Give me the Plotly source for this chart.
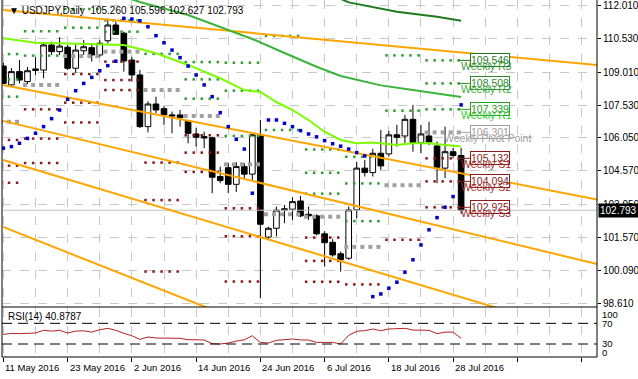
import plotly.graph_objects as go

# ---------------- data ----------------
bars = list(range(58))
date_labels = ["11 May 2016", "23 May 2016", "2 Jun 2016", "14 Jun 2016",
               "24 Jun 2016", "6 Jul 2016", "18 Jul 2016", "28 Jul 2016"]
date_bars = [0, 8, 16, 24, 32, 40, 48, 56]

opens = [109.29, 108.44, 109.04, 108.59, 109.09, 109.11, 110.24, 109.94, 110.14, 109.19,
         109.98, 110.12, 109.79, 110.43, 111.14, 110.77, 109.56, 108.89, 106.56, 107.58,
         107.37, 107.09, 107.09, 106.83, 106.23, 106.11, 106.06, 104.31, 104.71, 103.96,
         104.76, 104.42, 106.14, 101.58, 101.98, 102.79, 102.84, 103.21, 102.61, 102.54,
         101.73, 101.35, 100.83, 100.63, 102.81, 104.69, 104.49, 105.36, 105.33, 106.19,
         106.14, 106.89, 105.84, 106.14, 105.69, 104.69, 105.43, 105.260]
highs = [109.43, 109.20, 109.56, 109.25, 109.69, 110.32, 110.39, 110.59, 110.24, 110.30,
         110.46, 110.33, 110.46, 111.44, 111.29, 110.84, 109.71, 109.11, 107.70, 107.91,
         107.49, 107.24, 107.31, 106.86, 106.50, 106.33, 106.11, 104.76, 104.91, 104.96,
         104.91, 106.26, 106.86, 102.05, 102.96, 103.03, 103.38, 103.44, 102.96, 102.61,
         101.85, 101.49, 100.93, 102.96, 104.98, 105.06, 105.56, 106.41, 106.37, 106.64,
         107.09, 107.54, 106.64, 106.78, 105.89, 106.56, 105.59, 105.596]
lows = [108.48, 108.35, 108.51, 108.48, 108.89, 108.74, 109.79, 109.79, 109.11, 108.97,
        109.79, 109.49, 109.69, 110.32, 110.69, 109.04, 108.59, 106.50, 106.30, 107.16,
        106.64, 106.26, 106.56, 105.81, 105.66, 105.59, 103.56, 104.01, 103.56, 103.62,
        104.20, 104.16, 98.83, 101.45, 101.61, 102.21, 102.36, 102.48, 102.36, 101.66,
        100.25, 100.70, 100.03, 100.56, 102.43, 104.31, 104.31, 104.61, 105.21, 105.66,
        105.81, 105.43, 105.36, 105.73, 104.01, 104.24, 105.13, 102.627]
closes = [108.51, 109.04, 108.66, 109.08, 109.16, 110.24, 109.94, 110.19, 109.19, 110.01,
          110.16, 109.79, 110.32, 111.14, 110.72, 109.52, 108.89, 106.56, 107.58, 107.31,
          107.09, 107.04, 106.96, 106.26, 106.08, 106.05, 104.28, 104.13, 103.96, 104.76,
          104.42, 106.19, 102.16, 101.98, 102.80, 102.86, 103.18, 102.54, 102.54, 101.73,
          101.33, 100.78, 100.56, 102.81, 104.69, 104.49, 105.36, 104.79, 106.19, 106.08,
          106.89, 105.84, 106.23, 105.87, 104.73, 105.43, 105.26, 102.793]

# Parabolic SAR
sar = [105.59, 105.66, 105.81, 106.03, 106.26, 106.56, 106.92, 107.31, 107.79, 108.18,
       108.51, 108.78, 109.08, 109.31, 109.51, 111.44, 111.41, 111.33, 111.06, 110.66,
       110.34, 110.01, 109.67, 109.29, 108.89, 108.44, 107.91, 107.19, 106.56, 105.99,
       105.55, 103.56, None, 106.86, 106.86, 106.71, 106.56, 106.38, 106.23, 106.10,
       105.93, 105.79, 105.68, 105.55, 105.39, 105.24, 98.90, 99.02, 99.28, 99.55,
       100.00, 100.56, 101.23, 101.91, 102.46, 102.93, 103.41, 107.54]

# moving averages (bar, value)
ma_fast_bars = [0, 4, 8, 12, 15, 17, 19, 23, 27, 30, 32, 34, 36, 38, 40, 42, 44, 46, 49, 51, 53, 55, 57]
ma_fast_vals = [110.54, 110.34, 110.31, 110.28, 110.24, 110.06, 109.87, 109.34, 108.74, 108.21,
                108.12, 107.67, 107.31, 106.86, 106.33, 105.96, 105.81, 105.84, 105.73, 105.81,
                105.81, 105.73, 105.66]
ma_mid_bars = [14, 17, 23, 29, 31, 35, 39, 42, 47, 51, 57]
ma_mid_vals = [112.54, 112.18, 111.59, 110.78, 110.51, 109.88, 109.26, 108.84, 108.42, 108.21, 107.90]
ma_slow_bars = [42, 43, 49, 54, 57]
ma_slow_vals = [112.32, 112.16, 111.74, 111.51, 111.33]

# trend lines: (bar0, price0) -> (bar1, price1)
trend_b0 = [-0.05, -0.05, -0.05, -0.05, -0.05]
trend_p0 = [111.82, 108.44, 106.82, 105.06, 102.04]
trend_b1 = [73.92, 73.92, 73.92, 73.92, 73.92]
trend_p1 = [109.34, 103.28, 100.37, 97.04, 91.45]

# weekly pivots (one value per week, None = off chart)
week_start = [0, 3, 8, 13, 18, 23, 28, 33, 38, 43, 48, 53]
week_len = [3, 5, 5, 5, 5, 5, 5, 5, 5, 5, 5, 5]
piv_R3 = [109.83, None, None, None, None, 109.47, 109.44, None, 105.53, 105.20, None, 109.546]
piv_R2 = [108.69, 110.86, 111.86, 111.35, None, 108.69, 108.18, 110.65, 104.48, 104.00, 109.77, 108.508]
piv_R1 = [107.91, 109.76, 111.02, 110.84, 109.84, 107.82, 106.14, 106.41, 103.54, 102.30, 107.28, 107.339]
piv_PP = [106.78, 108.44, 109.74, 109.94, 108.21, 107.04, 104.86, 102.61, 102.50, 101.14, 103.92, 106.301]
piv_S1 = [105.96, 107.34, 108.93, 109.49, 104.94, 106.17, 102.88, None, 101.56, 99.45, 101.46, 105.132]
piv_S2 = [104.80, 106.02, 107.64, 108.66, 103.25, 105.39, 101.62, None, 100.51, None, None, 104.094]
piv_S3 = [104.03, 104.92, 106.75, 108.21, 100.03, 104.52, 99.58, None, 99.57, None, None, 102.925]

rsi = [48.7, 50.6, 50.0, 51.3, 51.3, 56.5, 55.0, 56.5, 51.3, 55.0,
       55.5, 53.0, 57.6, 60.3, 56.5, 50.6, 46.0, 39.0, 43.5, 41.6,
       41.0, 41.0, 41.0, 38.4, 38.4, 37.8, 30.6, 30.0, 31.9, 35.7,
       38.0, 46.0, 33.2, 31.9, 37.1, 38.4, 39.7, 37.8, 37.8, 33.2,
       32.6, 33.2, 30.0, 46.8, 54.5, 55.8, 59.0, 55.8, 59.0, 59.0,
       60.3, 57.0, 56.5, 56.5, 50.0, 53.0, 53.0, 40.88]
rsi_label = "RSI(14) 40.8787"
rsi_levels = [70, 30]
price_ticks = [112.010, 110.530, 109.010, 107.530, 106.050, 104.570, 103.050, 101.570, 100.090, 98.610]
last_price = 102.793
title_text = "USDJPY,Daily  105.260 105.596 102.627 102.793"

# ---------------- figure ----------------
W, H = 638, 379
FONT = "Liberation Sans, Arial, sans-serif"


def pxx(x):
    return x / W


def pyy(y):
    return 1 - y / H


fig = go.Figure()

# candles (drawn first: indicators sit on top, as in the terminal)
fig.add_trace(go.Candlestick(
    x=bars, open=opens, high=highs, low=lows, close=closes,
    increasing=dict(fillcolor="white", line=dict(color="black", width=1)),
    decreasing=dict(fillcolor="black", line=dict(color="black", width=1)),
    whiskerwidth=0, hoverinfo="skip"))

# last price line
fig.add_trace(go.Scatter(x=[-1, 80], y=[last_price, last_price], mode="lines",
                         line=dict(color="#C0C0C0", width=1), hoverinfo="skip"))

# pivots
piv_sets = [
    (piv_R3, "#2E9E2E", 2.5), (piv_R2, "#2E9E2E", 2.5), (piv_R1, "#2E9E2E", 2.5),
    (piv_PP, "#A0A0A0", 4), (piv_S1, "#8B1A1A", 2.5), (piv_S2, "#8B1A1A", 2.5),
    (piv_S3, "#8B1A1A", 2.5),
]
for levels, col, size in piv_sets:
    xs, ys = [], []
    for ws, wl, lv in zip(week_start, week_len, levels):
        if lv is None:
            continue
        for k in range(wl):
            xs.append(ws + k - 0.3)
            ys.append(lv)
    fig.add_trace(go.Scatter(x=xs, y=ys, mode="markers",
                             marker=dict(color=col, size=size, symbol="square", line=dict(width=0)),
                             hoverinfo="skip"))

# trend lines
for b0, p0, b1, p1 in zip(trend_b0, trend_p0, trend_b1, trend_p1):
    fig.add_trace(go.Scatter(x=[b0, b1], y=[p0, p1], mode="lines",
                             line=dict(color="#FFA500", width=2), hoverinfo="skip"))

# moving averages
fig.add_trace(go.Scatter(x=ma_slow_bars, y=ma_slow_vals, mode="lines",
                         line=dict(color="#1E7B1E", width=2), hoverinfo="skip"))
fig.add_trace(go.Scatter(x=ma_mid_bars, y=ma_mid_vals, mode="lines",
                         line=dict(color="#3CB43C", width=2), hoverinfo="skip"))
fig.add_trace(go.Scatter(x=ma_fast_bars, y=ma_fast_vals, mode="lines",
                         line=dict(color="#7CFC00", width=2), hoverinfo="skip"))

# SAR
fig.add_trace(go.Scatter(x=bars, y=sar, mode="markers",
                         marker=dict(color="#0000CC", size=3.5, symbol="square", line=dict(width=0)),
                         hoverinfo="skip"))

# pivot label connectors and boxes (last week)
last_labels = [
    ("R3", piv_R3[-1], "#1F7A1F", "#3A9A3A", "Weekly R3"),
    ("R2", piv_R2[-1], "#2E8B2E", "#3AAA3A", "Weekly R2"),
    ("R1", piv_R1[-1], "#22A022", "#33CC33", "Weekly R1"),
    ("PP", piv_PP[-1], "#A0A0A0", "#A0A0A0", "Weekly Pivot Point"),
    ("S1", piv_S1[-1], "#8B1A1A", "#A03030", "Weekly S1"),
    ("S2", piv_S2[-1], "#8B1A1A", "#A03030", "Weekly S2"),
    ("S3", piv_S3[-1], "#8B1A1A", "#A03030", "Weekly S3"),
]
annotations = []
for key, lv, col, tcol, name in last_labels:
    fig.add_trace(go.Scatter(x=[56.6, 58.1], y=[lv, lv], mode="lines",
                             line=dict(color=col, width=1), hoverinfo="skip"))
    annotations.append(dict(x=58.1, y=lv, xref="x", yref="y", xanchor="left", yanchor="middle",
                            text=f"{lv:.3f}", showarrow=False, bgcolor="white",
                            bordercolor=col, borderwidth=1, borderpad=0,
                            font=dict(family=FONT, size=10.5, color=col)))
for key, lv, col, tcol, name in last_labels:
    annotations.append(dict(x=(54.6 if key == "PP" else 56.75), y=lv, xref="x", yref="y",
                            xanchor="left", yanchor="middle", yshift=-6,
                            text=name, showarrow=False,
                            font=dict(family=FONT, size=10.5, color=tcol)))

# RSI
fig.add_trace(go.Scatter(x=bars, y=rsi, mode="lines", xaxis="x2", yaxis="y2",
                         line=dict(color="#B22222", width=1), hoverinfo="skip"))

shapes = []
for lv in rsi_levels:
    shapes.append(dict(type="line", xref="paper", yref="y2", x0=pxx(2), x1=pxx(597), y0=lv, y1=lv,
                       line=dict(color="black", width=1, dash="10px,6px")))
# frame
for (x0, y0, x1, y1) in [(2, 0, 2, 357), (597, 0, 597, 357), (2, 357, 597, 357), (2, 307, 597, 307)]:
    shapes.append(dict(type="line", xref="paper", yref="paper",
                       x0=pxx(x0), x1=pxx(x1), y0=pyy(y0), y1=pyy(y1),
                       line=dict(color="black", width=1)))

# texts
annotations.append(dict(x=pxx(7), y=pyy(10), xref="paper", yref="paper", xanchor="left",
                        yanchor="middle", text="\u25BC " + title_text, showarrow=False,
                        font=dict(family=FONT, size=10, color="black")))
annotations.append(dict(x=pxx(6), y=pyy(316), xref="paper", yref="paper", xanchor="left",
                        yanchor="middle", text=rsi_label,
                        showarrow=False, font=dict(family=FONT, size=10, color="black")))
for lab, yy in [("100", 314), ("70", 323), ("30", 343.5), ("0", 352)]:
    annotations.append(dict(x=pxx(600), y=pyy(yy), xref="paper", yref="paper", xanchor="left",
                            yanchor="middle", text=lab, showarrow=False,
                            font=dict(family=FONT, size=9.5, color="black")))
for b, lab in zip(date_bars, date_labels):
    annotations.append(dict(x=b, y=pyy(367), xref="x2", yref="paper", xanchor="left",
                            yanchor="middle", text=lab, showarrow=False,
                            font=dict(family=FONT, size=9.5, color="black")))
annotations.append(dict(x=pxx(598), y=last_price, xref="paper", yref="y", xanchor="left",
                        yanchor="middle", text=f"{last_price:.3f}", showarrow=False,
                        bgcolor="black", borderpad=1,
                        font=dict(family=FONT, size=10, color="white")))

x_range = [-0.174, 73.92]
grid = dict(showgrid=True, gridcolor="#C8C8C8", gridwidth=1, griddash="dash")

fig.update_layout(
    width=W, height=H, margin=dict(l=0, r=0, t=0, b=0),
    paper_bgcolor="white", plot_bgcolor="white", showlegend=False,
    boxgap=0.3, boxgroupgap=0,
    xaxis=dict(domain=[pxx(2), pxx(597)], range=x_range, anchor="y",
               tickmode="linear", tick0=0, dtick=4, showticklabels=False, ticks="",
               zeroline=False, showline=False, rangeslider=dict(visible=False), **grid),
    yaxis=dict(domain=[pyy(307), 1], range=[98.432, 112.267], side="right", anchor="x",
               tickmode="array", tickvals=price_ticks, ticktext=[f"{v:.3f}" for v in price_ticks],
               ticks="outside", ticklen=3, tickcolor="black", zeroline=False, showline=False,
               tickfont=dict(family=FONT, size=10, color="black"), automargin=False, **grid),
    xaxis2=dict(domain=[pxx(2), pxx(597)], range=x_range, anchor="y2", matches="x",
                tickmode="linear", tick0=0, dtick=8, showticklabels=False,
                ticks="outside", ticklen=4, tickcolor="black", zeroline=False,
                minor=dict(dtick=4, tick0=0, showgrid=True, gridcolor="#C8C8C8", griddash="dash", ticks=""),
                **grid),
    yaxis2=dict(domain=[pyy(357), pyy(308)], range=[4.9, 99.6], anchor="x2",
                showticklabels=False, showgrid=False, zeroline=False, ticks=""),
    shapes=shapes, annotations=annotations,
)

fig.write_html("out.html", config={"displayModeBar": False},
               post_script="document.body.style.margin='0px';")
